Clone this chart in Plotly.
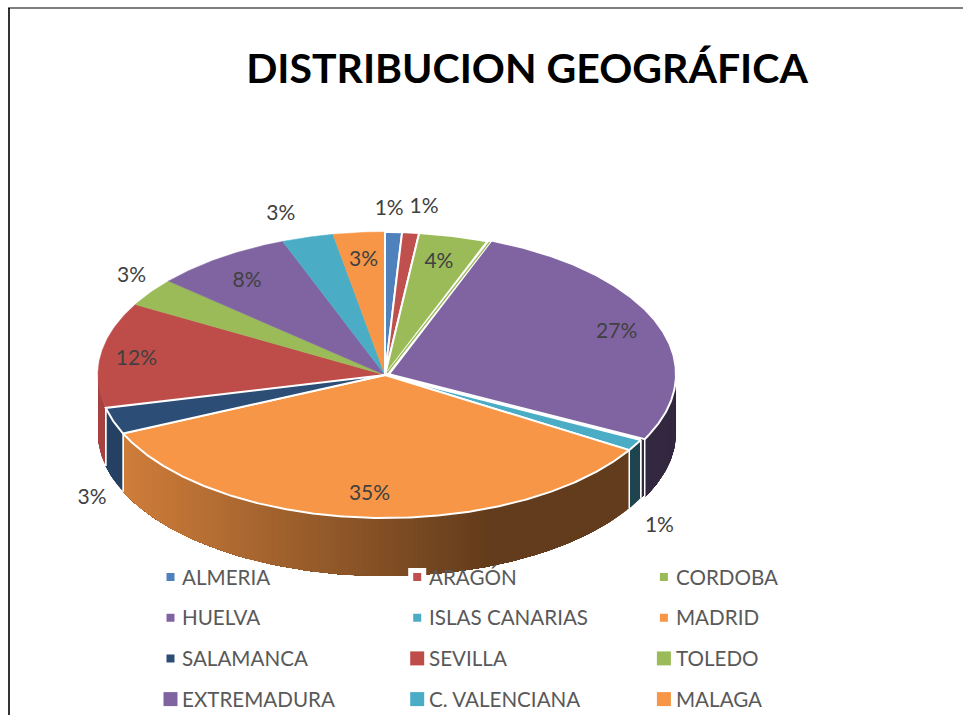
import numpy as np
import plotly.graph_objects as go

TITLE = "DISTRIBUCION GEOGRÁFICA"
CATEGORIES = ["ALMERIA", "ARAGÓN", "CORDOBA", "HUELVA", "ISLAS CANARIAS", "MADRID",
              "SALAMANCA", "SEVILLA", "TOLEDO", "EXTREMADURA", "C. VALENCIANA", "MALAGA"]
SHARES = [0.95, 0.95, 3.9, 26.7, 1.3, 34.5, 3.0, 11.9, 3.2, 7.8, 2.9, 2.9]
LABELS = ["1%", "1%", "4%", "27%", "1%", "35%", "3%", "12%", "3%", "8%", "3%", "3%"]
COLORS = ["#4F81BD", "#C0504D", "#9BBB59", "#8064A2", "#4BACC6", "#F79646",
          "#2C4D75", "#BE4D4A", "#9BBB59", "#8064A2", "#4BACC6", "#F79646"]

# style / layout settings
PULL = [0, 0, 0, 0.015, 0, 0, 0, 0, 0, 0, 0, 0]
BORDER = [2, 2, 2, 2, 2, 2, 2, 0, 0, 0, 0, 0]
LABEL_R = [1.175, 1.197, .825, .865, 1.097, .82, 1.078, .875, 1.13, .825, 1.196, .82]
LABEL_SHIFT = [-1, 1.4, -0.7, 0, 0, 0, 0, 0, 3.3, -0.7, -2, 0]
LEGEND_SIZE = [13, 13, 13, 13, 13, 13, 13, 14, 14, 14, 14, 14]
LEGEND_EDGE = [5, 5, 5, 5, 5, 5, 5, 0, 0, 0, 0, 0]
CX, CY, RX, RY, DEPTH = 385, 375, 287, 143, 58
OUT_DROP = 72
TEXT_DROP = 2.5
WIDTH, HEIGHT = 963, 715
FONT = "Lato"


def px(theta, r=1.0):
    return RX * r * np.sin(np.radians(theta))


def py(theta, r=1.0):
    return -RY * r * np.cos(np.radians(theta))


def shade(hexcolor, f):
    rgb = [int(hexcolor[i:i + 2], 16) for i in (1, 3, 5)]
    return "rgb({},{},{})".format(*[int(c * f) for c in rgb])


shares = np.array(SHARES)
edges = np.concatenate([[0], np.cumsum(shares)]) / shares.sum() * 360
fig = go.Figure()


def add_poly(xs, ys, fill, line, width):
    fig.add_trace(go.Scatter(x=xs, y=ys, mode="lines", fill="toself", fillcolor=fill,
                             line=dict(color=line, width=width), hoverinfo="skip", showlegend=False))


def offset(i):
    mid = (edges[i] + edges[i + 1]) / 2
    return CX + px(mid, PULL[i]), CY + py(mid, PULL[i])


def add_wall(i, ox, oy):
    # each strip runs to the wall's far end and the next one paints over it,
    # so no seams show between shades
    a, b = max(edges[i], 90), min(edges[i + 1], 270)
    if b <= a:
        return
    steps = np.linspace(a, b, max(2, int(b - a) + 2))
    for t0, t1 in zip(steps[:-1], steps[1:]):
        arc = np.linspace(t0, b, max(2, int(b - t0) + 2))
        xs = ox + px(np.concatenate([arc, arc[::-1], arc[:1]]))
        ys = oy + py(np.concatenate([arc, arc[::-1], arc[:1]]))
        ys = ys + np.concatenate([np.zeros(len(arc)), np.full(len(arc), DEPTH), [0]])
        xc = ox + px((t0 + t1) / 2)
        f = float(np.interp(xc, [97, 122, 490, 700], [.88, .84, .4, .4]))
        col = shade(COLORS[i], f)
        add_poly(xs, ys, col, "rgba(0,0,0,0)", 0)
    for t in (a, b):
        if 90 < t < 270:
            fig.add_trace(go.Scatter(x=[ox + px(t)] * 2, y=[oy + py(t), oy + py(t) + DEPTH], mode="lines",
                                     line=dict(color="white", width=1.5), hoverinfo="skip", showlegend=False))


# side walls of the visible front half (pulled slices leave a sliver behind them)
for i in range(len(SHARES)):
    if PULL[i]:
        add_wall(i, CX, CY)
    add_wall(i, *offset(i))

# top faces: borderless slices first
for i in sorted(range(len(SHARES)), key=lambda k: BORDER[k]):
    ox, oy = offset(i)
    th = np.linspace(edges[i], edges[i + 1], max(3, int(edges[i + 1] - edges[i]) * 2))
    xs = np.concatenate([[ox], ox + px(th), [ox]])
    ys = np.concatenate([[oy], oy + py(th), [oy]])
    if BORDER[i]:
        add_poly(xs, ys, COLORS[i], "white", BORDER[i])
    else:
        add_poly(xs, ys, COLORS[i], COLORS[i], 0.5)

# thin green sliver in the gap beside the pulled slice
sliver = edges[3] + 0.5
fig.add_trace(go.Scatter(x=[CX + 2, CX + px(sliver)], y=[CY - 2, CY + py(sliver)], mode="lines",
                         line=dict(color=COLORS[2], width=1.3), hoverinfo="skip", showlegend=False))

# percentage labels
mids = (edges[:-1] + edges[1:]) / 2 + np.array(LABEL_SHIFT)
lr = np.array(LABEL_R)
lx = CX + px(mids, lr)
ly = CY + py(mids, lr) + np.where((lr > 1) & (np.cos(np.radians(mids)) < 0), OUT_DROP, 0) + TEXT_DROP
fig.add_trace(go.Scatter(x=lx, y=ly, text=LABELS, mode="text", textposition="middle center",
                         textfont=dict(family=FONT, size=21, color="#404040"),
                         hoverinfo="skip", showlegend=False))

# legend grid
for i, name in enumerate(CATEGORIES):
    row, col = i // 3, i % 3
    y = 577 + row * 40.7
    mx = 170.5 + col * 246.7
    fig.add_trace(go.Scatter(x=[mx], y=[y], mode="markers",
                             marker=dict(symbol="square", size=LEGEND_SIZE[i], color=COLORS[i],
                                         line=dict(color="white", width=LEGEND_EDGE[i])),
                             hoverinfo="skip", showlegend=False))
    fig.add_trace(go.Scatter(x=[182 + col * 247], y=[y + TEXT_DROP], text=[name], mode="text",
                             textposition="middle right",
                             textfont=dict(family=FONT, size=20.6, color="#595959"),
                             hoverinfo="skip", showlegend=False))

fig.add_shape(type="line", x0=9, x1=9, y0=8, y1=HEIGHT, line=dict(color="black", width=1.6))
fig.add_shape(type="line", x0=8, x1=WIDTH, y0=8, y1=8, line=dict(color="black", width=1.2))

fig.update_layout(
    width=WIDTH, height=HEIGHT, margin=dict(l=0, r=0, t=0, b=0),
    paper_bgcolor="white", plot_bgcolor="white", showlegend=False,
    title=dict(text="<b>" + TITLE + "</b>", x=527 / WIDTH, y=1 - 69 / HEIGHT, xanchor="center", yanchor="middle",
               font=dict(family=FONT, size=41, color="black")),
    xaxis=dict(range=[0, WIDTH], visible=False, fixedrange=True),
    yaxis=dict(range=[HEIGHT, 0], visible=False, fixedrange=True),
)
fig.write_html("out.html", config={"displayModeBar": False},
               post_script="document.body.style.margin='0';document.body.style.overflow='hidden';")
